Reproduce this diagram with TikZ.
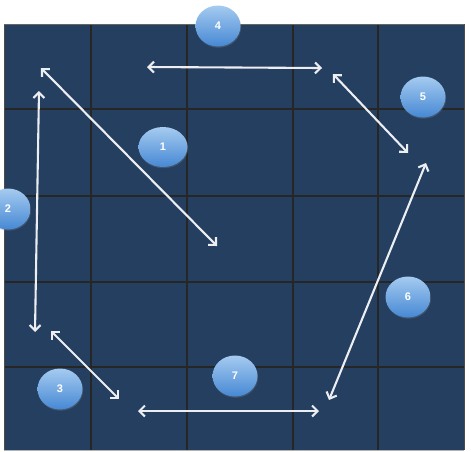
\documentclass[tikz,border=0pt]{standalone}
\usepackage{fontspec}
\setmainfont{Liberation Sans}
\usetikzlibrary{shapes.geometric,arrows.meta,shadows}
\definecolor{gridblue}{RGB}{37,63,97}
\definecolor{ballTop}{RGB}{165,203,240}
\definecolor{ballBot}{RGB}{70,136,212}
\definecolor{arrw}{RGB}{236,238,242}
\tikzset{
  ball/.style={ellipse, minimum width=45pt, minimum height=41pt, inner sep=0pt,
    top color=ballTop, bottom color=ballBot, draw=none,
    text=white, font=\bfseries\fontsize{11}{12}\selectfont,
    drop shadow={shadow xshift=0.6pt, shadow yshift=-1.2pt, opacity=0.35}},
  dbl/.style={arrw, line width=2.1pt, {Straight Barb[length=5.5pt,width=11pt]}-{Straight Barb[length=5.5pt,width=11pt]}},
  gridline/.style={black!85, line width=1.3pt}
}
\begin{document}
\begin{tikzpicture}[x=1pt,y=-1pt]
\useasboundingbox (0,0) rectangle (474,451);
% grid background
\fill[gridblue] (4,24) rectangle (464,450);
\foreach \gx in {91,187,293,378}
  \draw[gridline] (\gx,24) -- (\gx,450);
\foreach \gy in {109,196,282,367}
  \draw[gridline] (4,\gy) -- (464,\gy);
\draw[black!70, line width=0.8pt] (4,24) -- (4,450);
\draw[black!70, line width=1pt] (464,24) -- (464,450);
\draw[black!60, line width=0.6pt] (4,24) -- (464,24);
\draw[gray!60, line width=1.2pt] (4,450.4) -- (464,450.4);
% arrow end points
\coordinate (a1s) at (41,68);   \coordinate (a1e) at (217,246);
\coordinate (a2s) at (39,91);   \coordinate (a2e) at (35,332);
\coordinate (a3s) at (51,331);  \coordinate (a3e) at (119,399);
\coordinate (a4s) at (147,67);  \coordinate (a4e) at (322,68);
\coordinate (a5s) at (333,74);  \coordinate (a5e) at (408,153);
\coordinate (a6s) at (426,163); \coordinate (a6e) at (329,400);
\coordinate (a7s) at (138,411); \coordinate (a7e) at (319,411);
\draw[dbl] (a1s) -- (a1e);
\draw[dbl] (a2s) -- (a2e);
\draw[dbl] (a3s) -- (a3e);
\draw[dbl] (a4s) -- (a4e);
\draw[dbl] (a5s) -- (a5e);
\draw[dbl] (a6s) -- (a6e);
\draw[dbl] (a7s) -- (a7e);
% numbered balls
\node[ball, minimum width=49pt, minimum height=40pt] (b1) at (163,147) {1};
\node[ball] (b2) at (8,209) {2};
\node[ball] (b3) at (60,389) {3};
\node[ball] (b4) at (218,26) {4};
\node[ball] (b5) at (423,97) {5};
\node[ball] (b6) at (408,297) {6};
\node[ball] (b7) at (235,376) {7};
\end{tikzpicture}
\end{document}
